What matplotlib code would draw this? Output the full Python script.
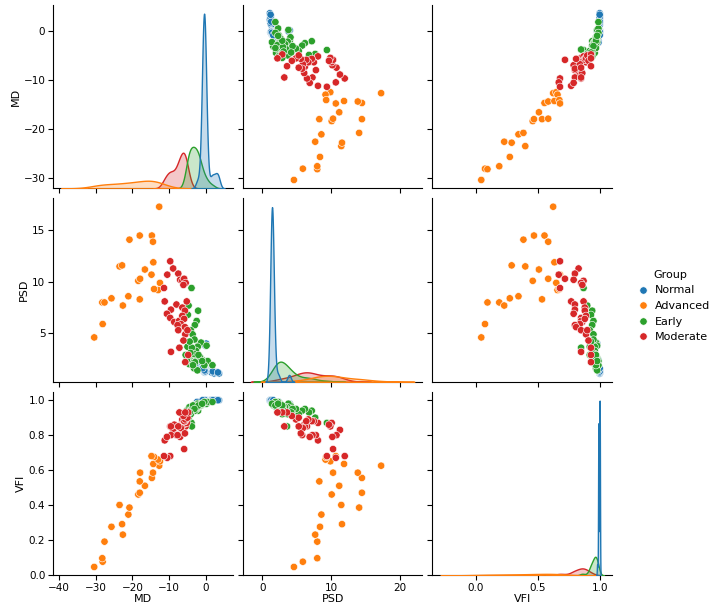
import numpy as np
import pandas as pd
import seaborn as sns
import matplotlib
matplotlib.use("Agg")
import matplotlib.pyplot as plt
from matplotlib.ticker import MultipleLocator

# values (MD, PSD, VFI per group)
groups = ["Normal", "Advanced", "Early", "Moderate"]

normal_md = [-0.5, -0.8, -0.3, 0.1, -1.0, -0.6, -0.4, 0.2, -0.9, -0.2,
             -0.7, -0.7, -0.5, -0.1, -0.5, -0.3, -0.8, -0.3, 1.2, -0.6,
             -2.0, -0.4, 0.0, -0.8, 1.6, -0.2, -1.1, 0.0, -0.5, 2.3,
             -0.7, -0.1, -0.4, -0.9, 3.0, -0.4, -0.6, -0.3, -0.6, 3.6,
             -1.2, -0.3, -0.5, -0.5, 2.7, -0.8, 0.1, -2.4, -0.2, 1.9,
             -0.6, -0.4, -0.7, -0.1, 3.3, -0.5, -0.6, -0.2, -0.4, -0.9]
normal_psd = [1.4, 1.5, 1.3, 1.4, 1.6, 1.4, 1.3, 1.5, 1.5, 1.4,
              1.7, 1.4, 1.3, 1.5, 1.4, 1.2, 1.6, 1.4, 1.3, 1.5,
              1.9, 1.4, 1.5, 1.6, 1.2, 1.3, 1.7, 1.4, 1.5, 1.1,
              1.5, 1.3, 1.4, 1.6, 1.2, 1.4, 1.5, 1.3, 1.4, 1.1,
              2.2, 1.5, 1.3, 1.4, 1.2, 1.6, 4.0, 2.4, 1.4, 1.3,
              1.5, 1.4, 1.8, 3.8, 1.2, 1.4, 1.5, 1.3, 1.4, 1.6]
normal_vfi = [0.99, 0.99, 1.00, 1.00, 0.99, 0.99, 1.00, 1.00, 0.99, 1.00,
              0.99, 0.99, 1.00, 1.00, 0.99, 1.00, 0.99, 1.00, 1.00, 0.99,
              0.99, 1.00, 1.00, 0.99, 1.00, 1.00, 0.99, 1.00, 0.99, 1.00,
              0.99, 1.00, 1.00, 0.99, 1.00, 0.99, 0.99, 1.00, 0.99, 1.00,
              0.99, 1.00, 1.00, 0.99, 1.00, 0.99, 0.98, 0.99, 1.00, 1.00,
              0.99, 1.00, 0.99, 0.98, 1.00, 1.00, 0.99, 1.00, 0.99, 1.00]

advanced_md = [-30.4, -28.1, -28.2, -27.6, -25.7, -23.5, -22.8, -22.6, -21.1, -20.8,
               -18.4, -18.0, -16.6, -18.0, -14.7, -17.9, -14.4, -12.7, -14.3, -12.5,
               -13.0, -14.1, -14.8]
advanced_psd = [4.6, 5.9, 8.0, 8.0, 8.4, 11.5, 11.6, 7.7, 8.6, 14.1,
                10.1, 14.5, 11.2, 8.3, 14.5, 10.3, 13.9, 17.3, 11.9, 9.9,
                9.2, 9.3, 10.7]
advanced_vfi = [0.045, 0.075, 0.095, 0.19, 0.275, 0.40, 0.29, 0.23, 0.345, 0.385,
                0.46, 0.47, 0.51, 0.535, 0.555, 0.585, 0.585, 0.625, 0.635, 0.65,
                0.66, 0.675, 0.68]

early_md = [-3.9, -4.7, -2.1, -4.9, -2.5, -3.0, -4.1, -3.6, -1.9, -1.3,
            0.2, -2.2, -5.0, -2.7, -4.5, -1.5, -0.9, 0.5, -0.4, 1.8,
            -3.2, -2.3, -4.5, -3.6, -3.8, -2.4, -4.7, -2.9, -3.3, -5.2,
            -1.6, -3.5, -4.2, -2.0, -3.1, -4.4, -5.5, -1.0]
early_psd = [9.4, 7.7, 7.2, 6.8, 6.2, 5.8, 5.3, 4.9, 4.0, 4.1,
             3.8, 3.7, 3.7, 3.3, 2.6, 2.6, 2.4, 2.3, 1.9, 1.9,
             1.6, 1.4, 2.0, 2.1, 3.6, 2.5, 2.8, 2.2, 3.0, 2.4,
             2.7, 1.9, 3.1, 2.9, 4.4, 4.2, 2.9, 2.3]
early_vfi = [0.87, 0.90, 0.94, 0.93, 0.95, 0.94, 0.92, 0.95, 0.97, 0.97,
             0.98, 0.96, 0.92, 0.96, 0.95, 0.98, 0.98, 0.99, 0.99, 0.99,
             0.97, 0.98, 0.96, 0.96, 0.85, 0.96, 0.93, 0.97, 0.96, 0.94,
             0.97, 0.97, 0.94, 0.97, 0.95, 0.93, 0.92, 0.98]

moderate_md = [-9.7, -8.9, -10.5, -7.5, -7.0, -6.4, -5.9, -5.5, -6.1, -11.4,
               -11.2, -8.0, -5.2, -9.5, -10.6, -6.4, -5.7, -9.7, -8.6, -7.3,
               -6.4, -5.9, -6.8, -7.7, -5.7, -7.5, -5.6, -5.0, -6.1, -9.5,
               -7.2, -4.8, -5.6]
moderate_psd = [12.0, 11.3, 10.7, 10.8, 10.2, 10.1, 10.3, 9.9, 9.7, 9.4,
                8.1, 7.8, 8.1, 7.3, 6.9, 7.5, 7.2, 6.5, 6.1, 6.2,
                6.7, 6.4, 5.9, 5.8, 5.6, 5.3, 4.9, 5.3, 4.3, 3.2,
                3.6, 2.9, 2.2]
moderate_vfi = [0.68, 0.83, 0.67, 0.80, 0.79, 0.87, 0.72, 0.85, 0.86, 0.68,
                0.77, 0.80, 0.87, 0.80, 0.79, 0.88, 0.88, 0.85, 0.86, 0.85,
                0.89, 0.88, 0.84, 0.80, 0.81, 0.85, 0.89, 0.90, 0.91, 0.85,
                0.93, 0.93, 0.93]

frames = []
for name, md, psd, vfi in [("Normal", normal_md, normal_psd, normal_vfi),
                           ("Advanced", advanced_md, advanced_psd, advanced_vfi),
                           ("Early", early_md, early_psd, early_vfi),
                           ("Moderate", moderate_md, moderate_psd, moderate_vfi)]:
    frames.append(pd.DataFrame({"MD": md, "PSD": psd, "VFI": vfi, "Group": name}))
df = pd.concat(frames, ignore_index=True)

plt.rcParams["font.size"] = 7.5
plt.rcParams["axes.labelsize"] = 8
g = sns.pairplot(df, hue="Group", hue_order=groups,
                 plot_kws={"s": 28}, diag_kws={"linewidth": 1})
g.fig.set_size_inches(7.16, 6.12)
g.fig.subplots_adjust(left=0.074, right=0.855, top=0.992, bottom=0.06,
                      wspace=0.055, hspace=0.055)
sns.move_legend(g, "center left", bbox_to_anchor=(0.882, 0.5), frameon=False,
                fontsize=8, title_fontsize=8, borderaxespad=0,
                borderpad=0, handletextpad=0.1)

steps = [10, 5, 0.2]
xsteps = [10, 10, 0.5]
for i in range(3):
    g.axes[i, 0].yaxis.set_major_locator(MultipleLocator(steps[i]))
    g.axes[2, i].xaxis.set_major_locator(MultipleLocator(xsteps[i]))

for ax in g.axes.flat:
    ax.tick_params(labelsize=7.5, pad=2)
    ax.xaxis.labelpad = 1
    ax.yaxis.labelpad = 2

g.fig.savefig("out.png", dpi=100)
